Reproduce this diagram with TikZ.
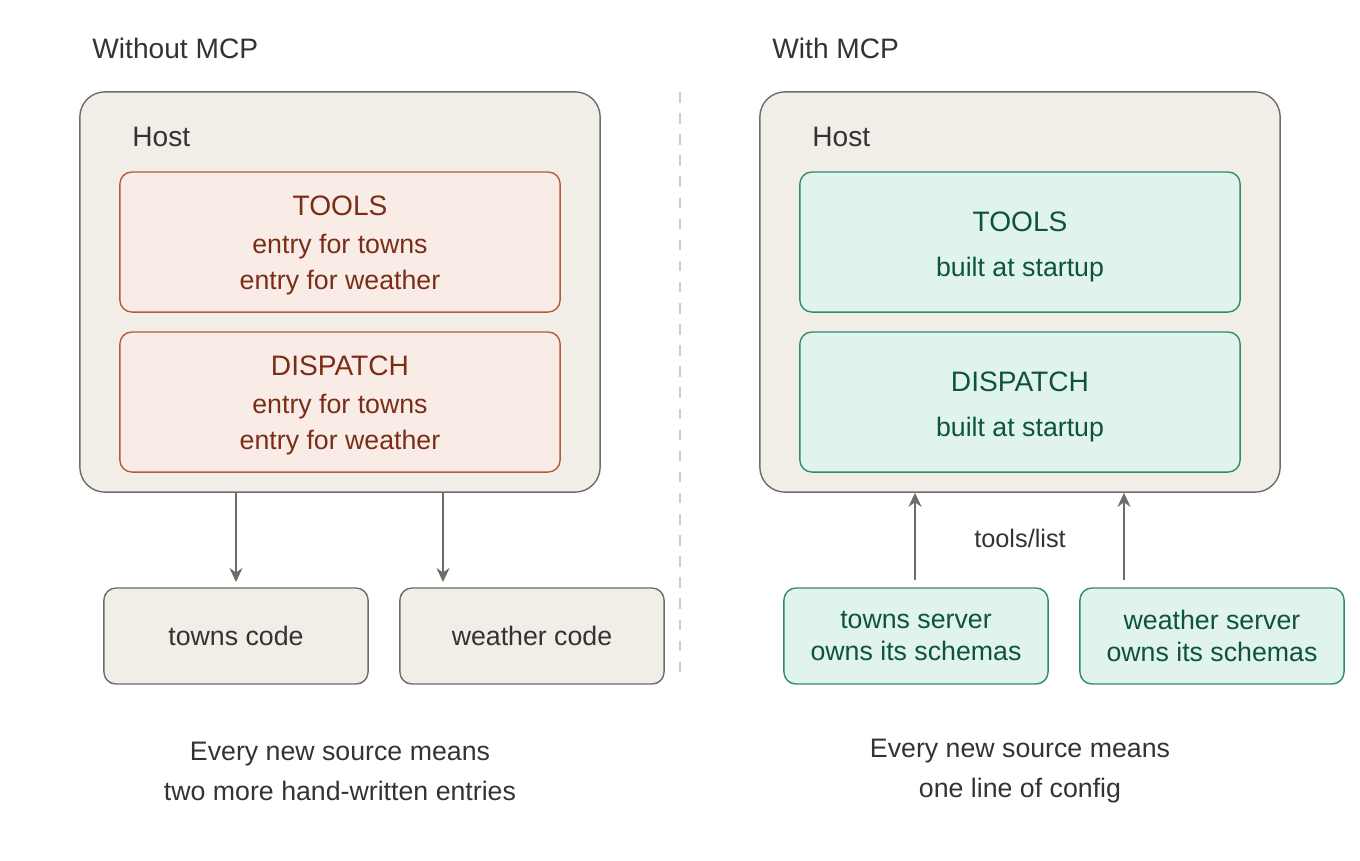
\documentclass[tikz,border=0pt]{standalone}
\usepackage{fontspec}
\setmainfont{Liberation Sans}
\usetikzlibrary{arrows.meta, positioning}
\definecolor{hostfill}{RGB}{241,238,231}
\definecolor{hostline}{RGB}{110,108,104}
\definecolor{redfill}{RGB}{249,236,230}
\definecolor{redline}{RGB}{184,90,62}
\definecolor{redtext}{RGB}{122,46,23}
\definecolor{greenfill}{RGB}{224,243,236}
\definecolor{greenline}{RGB}{52,140,104}
\definecolor{greentext}{RGB}{14,84,60}
\definecolor{textgray}{RGB}{51,51,51}
\begin{document}
\begin{tikzpicture}[
    x=0.01cm, y=-0.01cm,
    host/.style={rectangle, draw=hostline, fill=hostfill, rounded corners=0.25cm, minimum width=5.2cm, minimum height=4cm},
    redbox/.style={rectangle, draw=redline, fill=redfill, rounded corners=0.12cm, minimum width=4.4cm, minimum height=1.4cm},
    greenbox/.style={rectangle, draw=greenline, fill=greenfill, rounded corners=0.12cm, minimum width=4.4cm, minimum height=1.4cm},
    code/.style={rectangle, draw=hostline, fill=hostfill, rounded corners=0.12cm, minimum width=2.64cm, minimum height=0.96cm, font=\fontsize{7.6}{9}\selectfont, text=textgray},
    server/.style={code, draw=greenline, fill=greenfill, text=greentext, align=center},
    title/.style={font=\fontsize{8}{10}\selectfont, text=textgray},
    redlabel/.style={font=\fontsize{7.6}{9}\selectfont, text=redtext},
    greenlabel/.style={font=\fontsize{7.6}{9}\selectfont, text=greentext},
    caption/.style={font=\fontsize{7.6}{11.4}\selectfont, text=textgray, align=center},
    arrow/.style={-{Stealth[length=0.14cm, width=0.13cm]}, line width=0.6pt, draw=hostline}
]
    \useasboundingbox (0,0) rectangle (1360,860);

    % Left side
    \node[title, anchor=west] (lefttitle) at (80,48) {Without MCP};
    \node[host] (lefthost) at (340,292) {};
    \node[title, anchor=west] (lefthostlabel) at (120,137) {Host};
    \node[redbox] (lefttools) at (340,242) {};
    \node[redlabel, font=\fontsize{8}{10}\selectfont] (lefttoolsname) at (340,206) {TOOLS};
    \node[redlabel] at (340,247) {entry for towns};
    \node[redlabel] at (340,283) {entry for weather};
    \node[redbox] (leftdispatch) at (340,402) {};
    \node[redlabel, font=\fontsize{8}{10}\selectfont] (leftdispatchname) at (340,366) {DISPATCH};
    \node[redlabel] at (340,407) {entry for towns};
    \node[redlabel] at (340,443) {entry for weather};
    \node[code] (townscode) at (236,636) {towns code};
    \node[code] (weathercode) at (532,636) {weather code};
    \coordinate (townsdown) at (236,582);
    \coordinate (weatherdown) at (443,582);
    \draw[arrow] (townsdown |- lefthost.south) -- (townsdown);
    \draw[arrow] (weatherdown |- lefthost.south) -- (weatherdown);

    % Divider
    \draw[dashed, draw=black!20, line width=0.6pt] (680,92) -- (680,676);

    % Right side
    \node[title, anchor=west] (righttitle) at (760,48) {With MCP};
    \node[host] (righthost) at (1020,292) {};
    \node[title, anchor=west] (righthostlabel) at (800,137) {Host};
    \node[greenbox] (righttools) at (1020,242) {};
    \node[greenlabel, font=\fontsize{8}{10}\selectfont] at (1020,222) {TOOLS};
    \node[greenlabel] at (1020,270) {built at startup};
    \node[greenbox] (rightdispatch) at (1020,402) {};
    \node[greenlabel, font=\fontsize{8}{10}\selectfont] at (1020,382) {DISPATCH};
    \node[greenlabel] at (1020,430) {built at startup};
    \node[server] (townsserver) at (916,636) {towns server\\owns its schemas};
    \node[server] (weatherserver) at (1212,636) {weather server\\owns its schemas};
    \coordinate (townsup) at (915,580);
    \coordinate (weatherup) at (1124,580);
    \draw[arrow] (townsup) -- (townsup |- righthost.south);
    \draw[arrow] (weatherup) -- (weatherup |- righthost.south);
    \node[title, font=\fontsize{7.2}{9}\selectfont] (toolslist) at (1020,538) {tools/list};

    % Captions
    \node[caption] (leftcaption) at (340,771) {Every new source means\\two more hand-written entries};
    \node[caption] (rightcaption) at (1020,771) {Every new source means\\one line of config};
\end{tikzpicture}
\end{document}
